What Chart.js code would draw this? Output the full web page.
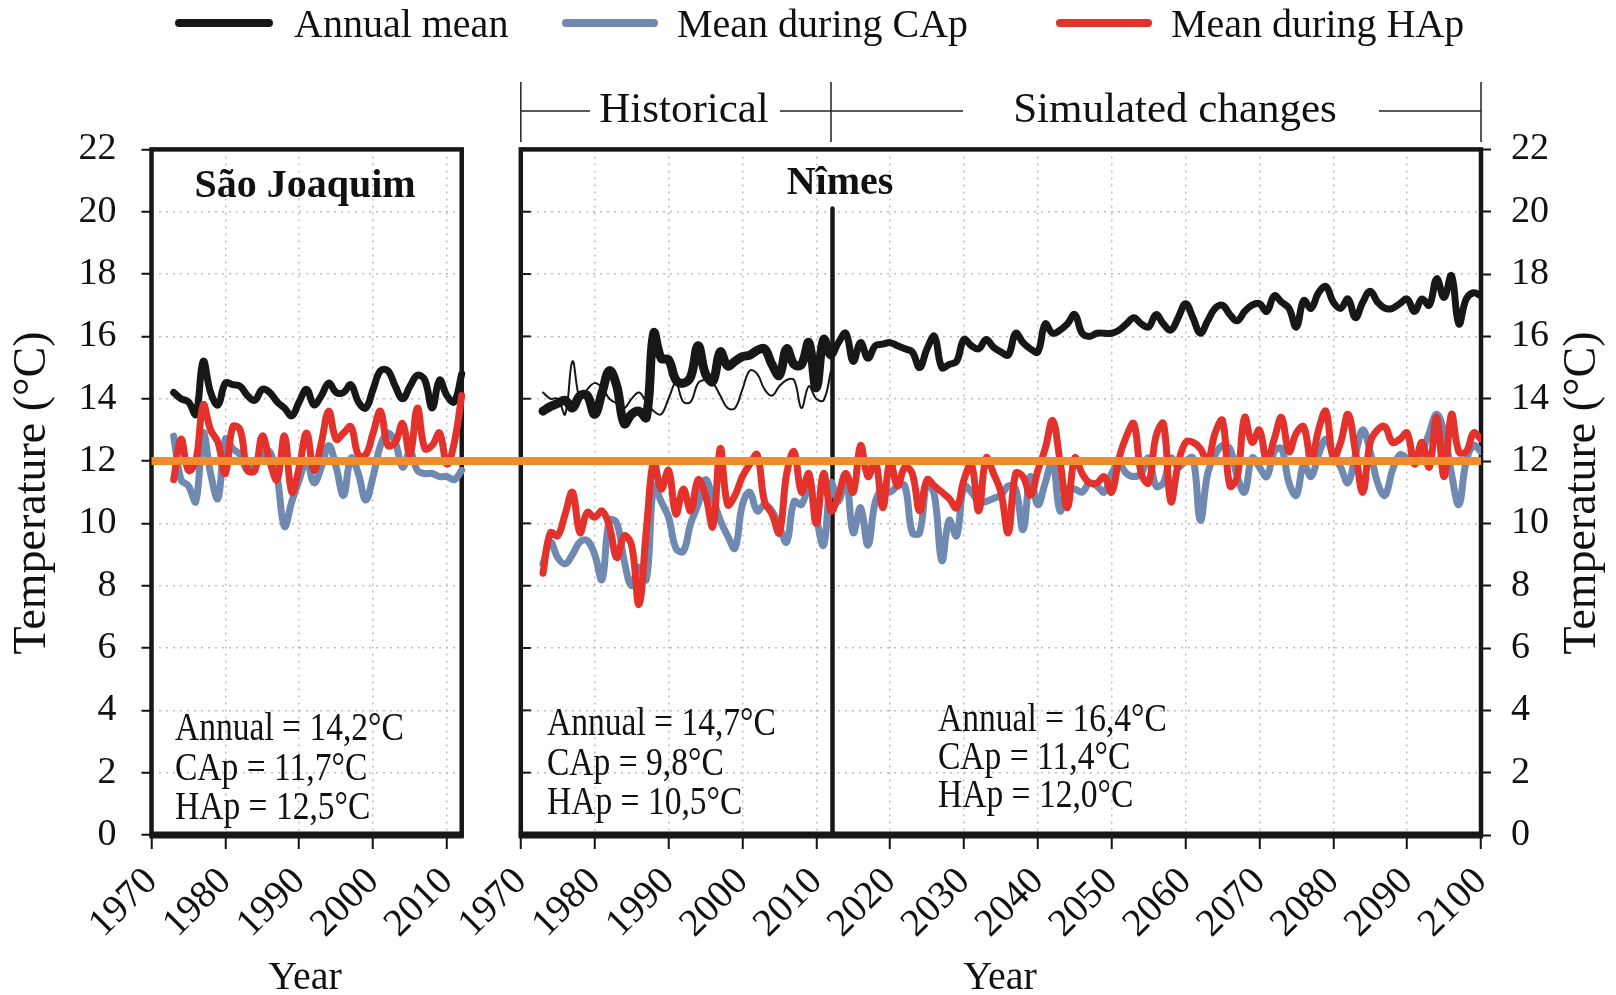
<!DOCTYPE html>
<html>
<head>
<meta charset="utf-8">
<script src="https://cdn.jsdelivr.net/npm/chart.js@4.4.1/dist/chart.umd.min.js"></script>
<style>
  html, body { margin: 0; padding: 0; background: #fff; }
  #wrap { width: 1616px; height: 995px; }
</style>
</head>
<body>
<div id="wrap"><canvas id="temps" width="1616" height="995"></canvas></div>
<script>
// both panels share one linear x scale: left panel is year-1970, right panel starts at gapOffset
const firstYear = 1973;
const gapOffset = 50;

const seriesNames = ["Annual mean", "Mean during CAp", "Mean during HAp"];
const leftTickYears = [1970, 1980, 1990, 2000, 2010];
const rightTickYears = [1970, 1980, 1990, 2000, 2010, 2020, 2030, 2040, 2050, 2060, 2070, 2080, 2090, 2100];

const sjStats = ["Annual = 14,2°C", "CAp = 11,7°C", "HAp = 12,5°C"];
const histStats = ["Annual = 14,7°C", "CAp = 9,8°C", "HAp = 10,5°C"];
const simStats = ["Annual = 16,4°C", "CAp = 11,4°C", "HAp = 12,0°C"];

// São Joaquim, 1973-2012
const sjAnnual = [
  14.2, 14.0, 13.9, 13.5, 15.2, 14.2, 13.8, 14.5, 14.45, 14.4,
  14.1, 13.95, 14.3, 14.2, 13.9, 13.7, 13.45, 13.9, 14.3, 13.8,
  14.1, 14.5, 14.2, 14.2, 14.45, 13.9, 13.7, 14.3, 14.9, 14.9,
  14.4, 14.0, 14.4, 14.75, 14.6, 13.7, 14.6, 14.1, 13.9, 14.8,
];
const sjCAp = [
  12.8, 11.4, 11.2, 10.7, 12.9, 11.6, 10.8, 12.7, 12.4, 12.2,
  11.7, 11.9, 12.2, 12.3, 11.5, 9.9, 10.7, 11.4, 12.0, 11.3,
  11.8, 12.5, 11.8, 10.9, 12.1, 11.6, 10.75, 11.5, 12.5, 12.9,
  12.6, 11.8, 12.3, 11.7, 11.6, 11.6, 11.5, 11.5, 11.4, 11.7,
];
const sjHAp = [
  11.4, 12.7, 11.7, 12.0, 13.8, 13.0, 12.6, 11.6, 13.1, 13.0,
  11.7, 11.7, 12.8, 12.0, 11.4, 12.8, 11.0, 11.8, 12.9, 11.7,
  12.6, 13.6, 12.7, 12.9, 13.1, 12.2, 12.2, 12.9, 13.6, 12.5,
  12.6, 13.2, 12.2, 13.7, 12.4, 12.5, 12.9, 11.9, 12.6, 14.1,
];

// Nîmes, 1973-2100 (historical to 2012, simulated after)
const nimesAnnual = [
  13.6, 13.75, 13.85, 13.95, 13.7, 14.1, 14.1, 13.5, 14.2, 14.9,
  14.4, 13.2, 13.5, 13.6, 13.4, 16.1, 15.3, 15.25, 14.6, 14.5,
  14.7, 15.7, 14.8, 14.55, 15.5, 15.05, 15.2, 15.35, 15.4, 15.55,
  15.6, 15.1, 14.75, 15.6, 15.1, 15.1, 15.8, 14.35, 15.9, 15.4,
  15.8, 16.1, 15.2, 15.8, 15.3, 15.7, 15.75, 15.8, 15.7, 15.6,
  15.5, 15.0, 15.6, 16.0, 15.0, 15.1, 15.2, 15.9, 15.7, 15.6,
  15.9, 15.65, 15.5, 15.4, 16.1, 15.8, 15.6, 15.5, 16.4, 16.1,
  16.2, 16.4, 16.7, 16.1, 16.0, 16.1, 16.1, 16.1, 16.2, 16.4,
  16.6, 16.4, 16.3, 16.7, 16.4, 16.2, 16.6, 17.05, 16.6, 16.1,
  16.5, 16.9, 17.0, 16.7, 16.5, 16.8, 17.0, 17.05, 16.8, 17.3,
  17.1, 16.9, 16.3, 17.15, 16.9, 17.4, 17.6, 17.1, 16.9, 17.2,
  16.6, 17.1, 17.45, 17.1, 16.9, 16.9, 17.05, 17.2, 16.8, 17.2,
  17.0, 17.85, 17.25, 17.95, 16.4, 17.2, 17.4, 17.3,
];
const nimesCAp = [
  8.7, 9.4, 8.9, 8.7, 9.0, 9.4, 9.45, 9.0, 8.2, 10.1,
  10.0, 8.8, 8.0, 8.6, 8.2, 11.2, 10.7, 10.2, 9.2, 9.1,
  10.0, 10.6, 11.4, 10.8, 10.1, 9.6, 9.2, 10.6, 11.0, 10.4,
  10.6, 10.4, 9.9, 9.4, 10.7, 10.6, 11.2, 10.2, 9.3, 11.3,
  10.7, 11.5, 9.7, 10.5, 9.3, 10.7, 11.1, 11.0, 11.2, 11.2,
  9.7, 9.7, 11.3, 10.9, 8.8, 10.1, 9.6, 11.2, 11.0, 10.7,
  10.7, 10.8, 10.9, 11.2, 11.1, 9.8, 11.5, 10.6, 11.3, 12.0,
  10.4, 11.1, 11.1, 11.0, 11.3, 11.2, 11.0, 11.6, 11.9, 11.6,
  11.5, 11.6, 12.1, 11.2, 11.3, 12.1, 11.8, 12.0, 12.1, 10.1,
  11.6, 12.2, 12.5, 12.4, 11.5, 11.0, 12.1, 11.8, 11.5, 12.3,
  12.4, 11.3, 10.9, 11.9, 11.5, 12.2, 12.7, 12.2, 11.8, 11.3,
  12.2, 13.0, 12.3, 11.3, 10.9, 11.7, 12.2, 12.1, 12.0, 12.3,
  12.9, 13.5, 12.9, 11.6, 10.6, 12.0, 12.5, 12.3,
];
const nimesHAp = [
  8.4, 9.7, 9.6, 10.3, 11.0, 9.7, 10.35, 10.2, 10.4, 9.9,
  8.9, 9.6, 9.3, 7.4, 9.8, 12.0, 11.1, 11.7, 10.3, 11.1,
  10.4, 11.4, 10.9, 9.9, 12.4, 10.6, 10.9, 11.5, 11.9, 12.2,
  10.7, 10.3, 9.7, 11.6, 12.3, 11.0, 11.6, 10.0, 11.6, 10.4,
  10.9, 11.6, 11.0, 12.5, 11.5, 12.0, 10.5, 12.0, 11.2, 11.8,
  11.6, 10.4, 11.4, 11.2, 11.0, 10.8, 10.5, 11.4, 11.9, 10.4,
  12.1, 11.6, 11.0, 9.7, 11.6, 11.5, 10.9, 11.7, 12.4, 13.3,
  12.0, 10.5, 12.1, 11.6, 11.3, 11.3, 11.5, 11.0, 12.1, 12.8,
  13.2, 11.6, 11.3, 12.8, 13.2, 10.7, 11.9, 12.6, 12.6, 12.4,
  12.0, 12.9, 13.3, 11.2, 11.5, 13.4, 12.6, 13.0, 12.0, 12.7,
  13.4, 12.3, 12.9, 13.1, 12.0, 13.0, 13.6, 12.1, 12.6, 13.5,
  12.3, 11.0, 12.6, 13.0, 13.1, 12.6, 12.7, 12.9, 11.9, 12.6,
  11.8, 13.4, 11.5, 13.5, 12.3, 12.3, 12.9, 12.7,
];
// thin line in the Nîmes panel, 1973-2012
const nimesThin = [
  14.2, 14.0, 14.0, 13.5, 15.2, 14.0, 14.3, 14.5, 14.35, 14.0,
  13.85, 13.7, 14.0, 14.2, 13.9, 13.6, 13.5, 14.0, 14.5, 13.9,
  13.9, 14.5, 14.6, 14.5, 14.1, 13.7, 13.7, 14.3, 14.9, 14.8,
  14.3, 14.1, 14.4, 14.6, 14.6, 13.7, 14.4, 14.0, 13.95, 14.9,
];
const thresholdTemp = 12;
const splitYear = 2012.2;

const SERIF = '"Liberation Serif", "DejaVu Serif", serif';
const BLACK = "#171717";
const BLUE = "#7089b0";
const RED = "#e3312c";
const ORANGE = "#f08c2b";

const sjX = (yr) => yr - 1970;
const nmX = (yr) => gapOffset + yr - 1970;
const toPoints = (arr, mapX) => arr.map((v, i) => ({ x: mapX(firstYear + i), y: v }));

const tickLabels = new Map();
leftTickYears.forEach((y) => tickLabels.set(sjX(y), String(y)));
rightTickYears.forEach((y) => tickLabels.set(nmX(y), String(y)));

const line = (data, color, width) => ({
  data: data,
  borderColor: color,
  borderWidth: width,
  pointRadius: 0,
  tension: 0.4,
  borderCapStyle: "round",
  borderJoinStyle: "round",
  fill: false,
});

// text a bit narrower than the installed serif, like the original's condensed Times
function narrowText(ctx, text, x, y, sx) {
  ctx.save();
  ctx.translate(x, y);
  ctx.scale(sx, 1);
  ctx.fillText(text, 0, 0);
  ctx.restore();
}

const framePlugin = {
  id: "frames",
  beforeDatasetsDraw(chart) {
    const { ctx, chartArea: a, scales } = chart;
    const px = (v) => scales.x.getPixelForValue(v);
    const py = (v) => scales.y.getPixelForValue(v);
    const lx0 = px(0), lx1 = px(42), rx0 = px(gapOffset), rx1 = px(gapOffset + 130);
    ctx.save();
    // no grid in the space between the panels
    ctx.fillStyle = "#fff";
    ctx.fillRect(lx1 + 2, a.top - 4, rx0 - lx1 - 4, a.bottom - a.top + 6);
    ctx.strokeStyle = BLACK;
    ctx.lineWidth = 4.5;
    [[lx0, lx1], [rx0, rx1]].forEach(([l, r]) => {
      ctx.strokeRect(l, a.top, r - l, a.bottom - a.top);
      ctx.lineWidth = 7;
      ctx.beginPath();
      ctx.moveTo(l - 2, a.bottom);
      ctx.lineTo(r + 2, a.bottom);
      ctx.stroke();
      ctx.lineWidth = 4.5;
    });
    // inward ticks on the left side of the Nîmes panel
    ctx.lineWidth = 2;
    for (let v = 2; v <= 20; v += 2) {
      ctx.beginPath();
      ctx.moveTo(rx0, py(v));
      ctx.lineTo(rx0 + 10, py(v));
      ctx.stroke();
    }
    ctx.restore();
  },
  afterDraw(chart) {
    const { ctx, scales } = chart;
    const px = (v) => scales.x.getPixelForValue(v);
    ctx.save();
    ctx.fillStyle = "#111";
    ctx.textBaseline = "middle";

    // legend
    const legendItems = [
      { x0: 179, x1: 269, tx: 294, color: BLACK },
      { x0: 566, x1: 654, tx: 677, color: BLUE },
      { x0: 1060, x1: 1148, tx: 1171, color: RED },
    ];
    ctx.lineCap = "round";
    legendItems.forEach((it, i) => {
      ctx.strokeStyle = it.color;
      ctx.lineWidth = 8;
      ctx.beginPath();
      ctx.moveTo(it.x0, 23);
      ctx.lineTo(it.x1, 23);
      ctx.stroke();
      ctx.font = "40px " + SERIF;
      ctx.textAlign = "left";
      ctx.fillText(seriesNames[i], it.tx, 26);
    });

    // period header
    const hx0 = px(gapOffset), hx1 = px(nmX(2012)), hx2 = px(gapOffset + 130);
    ctx.strokeStyle = "#222";
    ctx.lineWidth = 1.5;
    ctx.lineCap = "butt";
    [hx0, hx1, hx2].forEach((x) => {
      ctx.beginPath();
      ctx.moveTo(x, 82);
      ctx.lineTo(x, 142);
      ctx.stroke();
    });
    [[hx0, 590], [780, 963], [1379, hx2]].forEach(([a, b]) => {
      ctx.beginPath();
      ctx.moveTo(a, 111);
      ctx.lineTo(b, 111);
      ctx.stroke();
    });
    ctx.font = "43px " + SERIF;
    ctx.textAlign = "center";
    ctx.fillText("Historical", 684, 111);
    ctx.fillText("Simulated changes", 1175, 111);

    // panel names
    ctx.font = "bold 40px " + SERIF;
    ctx.fillText("São Joaquim", 305, 187);
    ctx.fillText("Nîmes", 840, 184);

    // period means
    ctx.font = "39px " + SERIF;
    ctx.textAlign = "left";
    sjStats.forEach((s, i) => narrowText(ctx, s, 175, 730 + i * 39.5, 0.86));
    histStats.forEach((s, i) => narrowText(ctx, s, 547, 725 + i * 39.5, 0.86));
    simStats.forEach((s, i) => narrowText(ctx, s, 938, 721 + i * 37.7, 0.86));

    // axis titles
    ctx.font = "40px " + SERIF;
    ctx.textAlign = "center";
    ctx.fillText("Year", 305, 978);
    ctx.fillText("Year", 1000, 978);
    ctx.font = "46px " + SERIF;
    [33, 1583].forEach((x) => {
      ctx.save();
      ctx.translate(x, 493);
      ctx.rotate(-Math.PI / 2);
      ctx.fillText("Temperature (°C)", 0, 0);
      ctx.restore();
    });
    ctx.restore();
  },
};

const yTicks = { stepSize: 2, color: "#111", font: { family: SERIF, size: 38 } };
const markGrid = { tickLength: 10, tickColor: "#111", tickWidth: 2 };

new Chart(document.getElementById("temps"), {
  type: "line",
  data: {
    datasets: [
      line([{ x: 0, y: thresholdTemp }, { x: gapOffset + 130, y: thresholdTemp }], ORANGE, 8),
      line(toPoints(sjHAp, sjX), RED, 7),
      line(toPoints(nimesHAp, nmX), RED, 7),
      line(toPoints(sjCAp, sjX), BLUE, 7),
      line(toPoints(nimesCAp, nmX), BLUE, 7),
      line(toPoints(sjAnnual, sjX), BLACK, 7),
      {
        ...line(toPoints(nimesAnnual, nmX), BLACK, 7),
        segment: { borderWidth: (c) => (c.p1DataIndex <= 39 ? 9 : 7) },
      },
      line(toPoints(nimesThin, nmX), BLACK, 2),
      { ...line([{ x: nmX(splitYear), y: 0.1 }, { x: nmX(splitYear), y: 20.1 }], BLACK, 4.5), tension: 0 },
    ],
  },
  options: {
    responsive: false,
    animation: false,
    devicePixelRatio: 1,
    layout: { padding: { top: 149.4, left: 0, right: 0, bottom: 0 } },
    plugins: {
      legend: { display: false },
      tooltip: { enabled: false },
    },
    scales: {
      x: {
        type: "linear",
        min: 0,
        max: gapOffset + 130,
        afterBuildTicks: (s) => {
          s.ticks = [...tickLabels.keys()].map((v) => ({ value: v }));
        },
        afterFit: (s) => {
          s.height = 160;
        },
        ticks: {
          autoSkip: false,
          minRotation: 45,
          maxRotation: 45,
          padding: 10,
          color: "#111",
          font: { family: SERIF, size: 39 },
          callback: (v) => tickLabels.get(v) ?? "",
        },
        grid: { color: "#bdbdbd", lineWidth: 1.5, ...markGrid, tickLength: 14 },
        border: { display: false, dash: [2, 5] },
      },
      y: {
        position: "left",
        min: 0,
        max: 22,
        ticks: { ...yTicks, padding: 25 },
        grid: { color: "#bdbdbd", lineWidth: 1.5, ...markGrid },
        border: { display: false, dash: [2, 5] },
        afterFit: (s) => {
          s.width = 151.5;
        },
      },
      y2: {
        position: "right",
        min: 0,
        max: 22,
        ticks: { ...yTicks, padding: 20 },
        grid: { drawOnChartArea: false, ...markGrid },
        border: { display: false },
        afterFit: (s) => {
          s.width = 135;
        },
      },
    },
  },
  plugins: [framePlugin],
});
</script>
</body>
</html>
